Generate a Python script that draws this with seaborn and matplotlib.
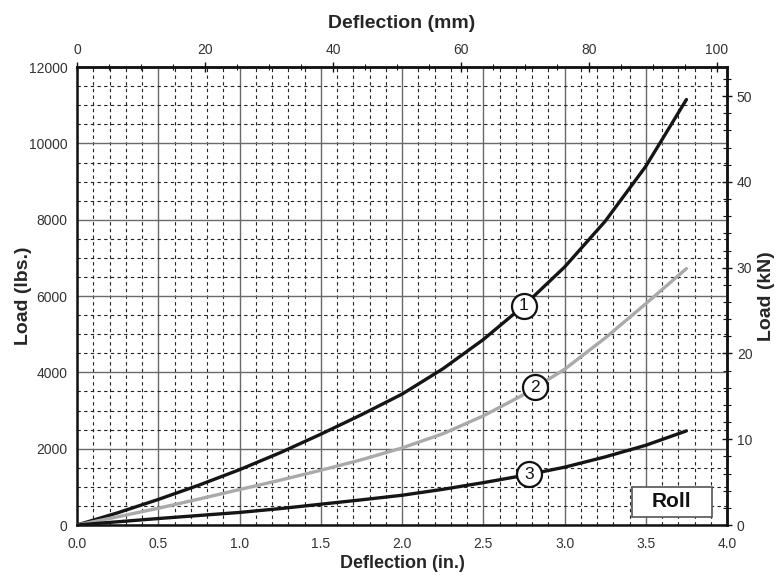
import numpy as np
import pandas as pd
import matplotlib
matplotlib.use("Agg")
import matplotlib.pyplot as plt
import seaborn as sns
from matplotlib.patches import Rectangle
from matplotlib.ticker import MultipleLocator

# values
deflection_in = [0, 0.25, 0.5, 0.75, 1.0, 1.25, 1.5, 1.75, 2.0, 2.25, 2.5, 2.75, 3.0, 3.25, 3.5, 3.75]
load_1 = [0, 320, 670, 1045, 1450, 1895, 2380, 2890, 3430, 4090, 4860, 5750, 6760, 7960, 9400, 11150]
load_2 = [0, 215, 440, 680, 930, 1175, 1435, 1710, 2020, 2390, 2860, 3420, 4080, 4900, 5800, 6720]
load_3 = [0, 85, 170, 250, 330, 430, 545, 660, 780, 935, 1110, 1300, 1515, 1785, 2090, 2467]
curve_names = ["1", "2", "3"]
label_x = [2.75, 2.82, 2.78]

IN_TO_MM = 25.4
LBS_TO_KN = 0.00444822

df = pd.DataFrame({
    "Deflection": deflection_in * 3,
    "Load": load_1 + load_2 + load_3,
    "curve": [c for c in curve_names for _ in deflection_in],
})

sns.set_style("white")
plt.rcParams["font.family"] = ["Liberation Sans", "DejaVu Sans"]

fig = plt.figure(figsize=(7.78, 5.76), dpi=100)
ax = fig.add_axes([0.099, 0.0885, 0.8355, 0.795])

palette = {"1": "#151515", "2": "#aaaaaa", "3": "#151515"}
sns.lineplot(data=df, x="Deflection", y="Load", hue="curve", palette=palette,
             linewidth=2.4, legend=False, ax=ax, zorder=3)

ax.set_xlim(0, 4.0)
ax.set_ylim(0, 12000)
ax.xaxis.set_major_locator(MultipleLocator(0.5))
ax.xaxis.set_minor_locator(MultipleLocator(0.1))
ax.yaxis.set_major_locator(MultipleLocator(2000))
ax.yaxis.set_minor_locator(MultipleLocator(500))
ax.xaxis.set_major_formatter(lambda v, p: f"{v:.1f}")

ax.grid(which="major", color="#6a6a6a", linewidth=1.0, linestyle="-", zorder=1)
ax.grid(which="minor", color="#222222", linewidth=0.8, linestyle=(0, (3, 3)), zorder=1)
ax.set_axisbelow(True)

for s in ax.spines.values():
    s.set_linewidth(1.8)
    s.set_color("#111111")

tick_font = 10
ax.tick_params(which="major", direction="inout", length=7, width=1.0, labelsize=tick_font,
               colors="#111111", labelcolor="#333333")
ax.tick_params(which="minor", direction="inout", length=4, width=0.8, colors="#111111")
ax.tick_params(axis="x", pad=5)

ax.set_xlabel("Deflection (in.)", fontsize=13, fontweight="bold")
ax.xaxis.set_label_coords(0.5, -0.066)
ax.set_ylabel("Load (lbs.)", fontsize=14, fontweight="bold")
ax.yaxis.set_label_coords(-0.069, 0.5)

# top mm axis
top = ax.secondary_xaxis("top", functions=(lambda v: v * IN_TO_MM, lambda v: v / IN_TO_MM))
top.xaxis.set_major_locator(MultipleLocator(20))
top.xaxis.set_minor_locator(MultipleLocator(5))
top.tick_params(which="major", direction="inout", length=7, width=1.0, labelsize=tick_font,
                colors="#111111", labelcolor="#333333")
top.tick_params(which="minor", direction="inout", length=5, width=0.8, colors="#111111")
top.set_xlabel("Deflection (mm)", fontsize=14, fontweight="bold", labelpad=11)
top.spines["top"].set_linewidth(1.8)

# right kN axis
right = ax.secondary_yaxis("right", functions=(lambda v: v * LBS_TO_KN, lambda v: v / LBS_TO_KN))
right.yaxis.set_major_locator(MultipleLocator(10))
right.yaxis.set_minor_locator(MultipleLocator(2))
right.tick_params(which="major", direction="inout", length=7, width=1.0, labelsize=tick_font,
                  colors="#111111", labelcolor="#333333")
right.tick_params(which="minor", direction="inout", length=6, width=0.8, colors="#111111")
right.set_ylabel("Load (kN)", fontsize=14, fontweight="bold", labelpad=4)
right.spines["right"].set_linewidth(1.8)

# numbered circles on the curves
for name, lx, ys in zip(curve_names, label_x, [load_1, load_2, load_3]):
    ly = np.interp(lx, deflection_in, ys)
    ax.plot(lx, ly, marker="o", markersize=18, markerfacecolor="white",
            markeredgecolor="#111111", markeredgewidth=1.6, zorder=5)
    ax.text(lx, ly, name, ha="center", va="center", fontsize=12.5, color="#111111", zorder=6)

# "Roll" tag in the lower right corner
ax.add_patch(Rectangle((0.854, 0.0175), 0.123, 0.066, transform=ax.transAxes,
                       facecolor="white", edgecolor="#555555", linewidth=1.2, zorder=6))
ax.text(0.915, 0.051, "Roll", transform=ax.transAxes, ha="center", va="center",
        fontsize=15, fontweight="bold", color="#111111", zorder=7)

fig.savefig("out.png", dpi=100)
